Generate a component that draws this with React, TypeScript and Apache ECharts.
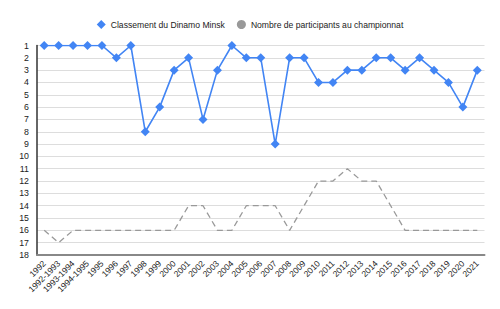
import React, { useEffect, useRef } from "react";
import * as echarts from "echarts";

const categories = [
  "1992", "1992-1993", "1993-1994", "1994-1995", "1995", "1996", "1997", "1998", "1999", "2000",
  "2001", "2002", "2003", "2004", "2005", "2006", "2007", "2008", "2009", "2010",
  "2011", "2012", "2013", "2014", "2015", "2016", "2017", "2018", "2019", "2020", "2021",
];
const classement = [1, 1, 1, 1, 1, 2, 1, 8, 6, 3, 2, 7, 3, 1, 2, 2, 9, 2, 2, 4, 4, 3, 3, 2, 2, 3, 2, 3, 4, 6, 3];
const participants = [16, 17, 16, 16, 16, 16, 16, 16, 16, 16, 14, 14, 16, 16, 14, 14, 14, 16, 14, 12, 12, 11, 12, 12, 14, 16, 16, 16, 16, 16, 16];
const seriesNames = ["Classement du Dinamo Minsk", "Nombre de participants au championnat"];

export default function App() {
  const ref = useRef<HTMLDivElement>(null);
  useEffect(() => {
    if (!ref.current) return;
    const chart = echarts.init(ref.current, null, { renderer: "svg" });
    chart.setOption({
      animation: false,
      textStyle: { fontFamily: "Arial, Liberation Sans, sans-serif" },
      legend: {
        top: 15,
        left: "center",
        itemGap: 12,
        itemWidth: 9,
        itemHeight: 9,
        textStyle: { fontSize: 8.6, color: "#222" },
        data: [
          { name: seriesNames[0], icon: "diamond" },
          { name: seriesNames[1], icon: "circle" },
        ],
      },
      grid: { left: 37, right: 15.5, top: 45.5, bottom: 54 },
      xAxis: {
        type: "category",
        data: categories,
        boundaryGap: true,
        axisLine: { lineStyle: { color: "#888", width: 2 } },
        axisTick: { alignWithLabel: true, length: 4, lineStyle: { color: "#888" } },
        axisLabel: { rotate: 45, fontSize: 8.5, color: "#222", interval: 0, margin: 7 },
        splitLine: { show: false },
      },
      yAxis: {
        type: "value",
        inverse: true,
        min: 1,
        max: 18,
        interval: 1,
        axisLine: { show: true, lineStyle: { color: "#333", width: 1.5 } },
        axisTick: { show: false },
        axisLabel: { fontSize: 8.8, color: "#222", margin: 8 },
        splitLine: { lineStyle: { color: "#ddd", width: 1 } },
      },
      series: [
        {
          name: seriesNames[0],
          type: "line",
          data: classement,
          symbol: "diamond",
          symbolSize: 9,
          itemStyle: { color: "#4285f4" },
          lineStyle: { color: "#4285f4", width: 1.6 },
        },
        {
          name: seriesNames[1],
          type: "line",
          data: participants,
          symbol: "circle",
          symbolSize: 2,
          showSymbol: false,
          itemStyle: { color: "#999" },
          lineStyle: { color: "#999", width: 1.3, type: [6, 4] },
        },
      ],
    });
    return () => chart.dispose();
  }, []);
  return <div ref={ref} style={{ width: 500, height: 309, position: "absolute", left: 0, top: 0 }} />;
}
